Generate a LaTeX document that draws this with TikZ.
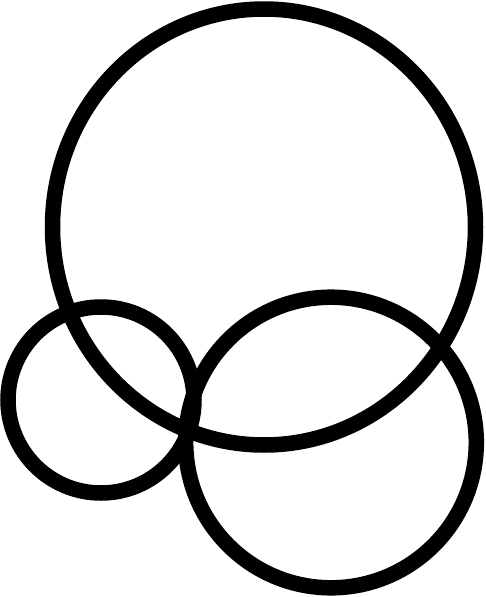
\documentclass[tikz,border=0pt]{standalone}
\begin{document}
\begin{tikzpicture}[x=1pt,y=-1pt,ring/.style={draw=black,line width=15.5pt}]
\useasboundingbox (0,0) rectangle (485,597);
\fill[white] (0,0) rectangle (485,597);
\draw[ring] (264,227) ellipse [x radius=211.5, y radius=218];
\draw[ring] (101,400) circle [radius=93];
\draw[ring] (331,442.5) circle [radius=145.3];
\end{tikzpicture}
\end{document}
